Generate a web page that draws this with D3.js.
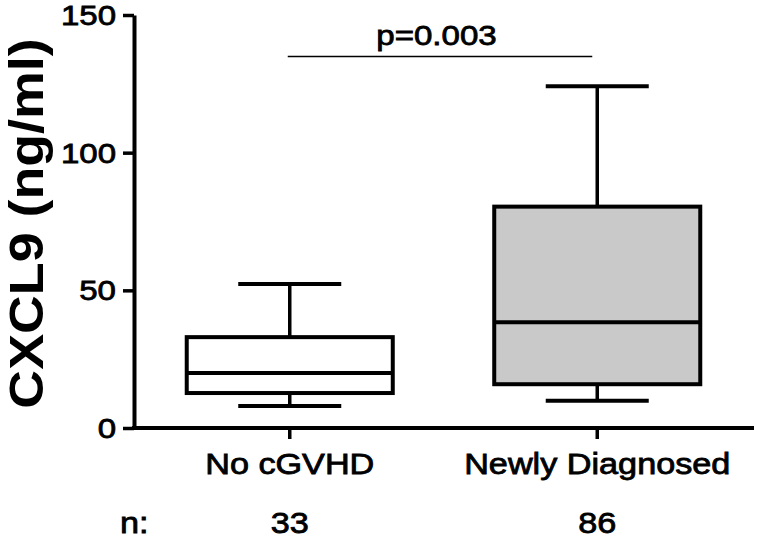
<!DOCTYPE html>
<html>
<head>
<meta charset="utf-8">
<script src="https://cdn.jsdelivr.net/npm/d3@7"></script>
<style>
  body { margin: 0; background: #fff; }
  text { font-family: "Liberation Sans", Arial, sans-serif; fill: #000; }
</style>
</head>
<body>
<script>
// data
var groups = ['No cGVHD', 'Newly Diagnosed'];
var lowWhisker = [8.0, 9.9];
var q1 = [12.7, 15.9];
var medians = [20.0, 38.4];
var q3 = [33.0, 80.4];
var highWhisker = [52.3, 124.1];
var counts = [33, 86];
var fills = ['#ffffff', '#c9c9c9'];
var yTicks = [0, 50, 100, 150];
var pLabel = 'p=0.003';

var width = 757, height = 539;
var sx = 1.18; // glyphs in the picture are a bit wide

var svg = d3.select('body').append('svg')
            .attr('width', width)
            .attr('height', height);

var y = d3.scaleLinear().domain([0, 150]).range([428, 15]);
var x = d3.scaleBand().domain(groups).range([136, 751]);
var boxW = x.bandwidth() * 0.67;
var capW = boxW / 2;
var cx = function(i){ return x(groups[i]) + x.bandwidth() / 2; };

var data = groups.map(function(g, i){
  return {name: g, lo: lowWhisker[i], q1: q1[i], med: medians[i], q3: q3[i], hi: highWhisker[i], n: counts[i], fill: fills[i], i: i};
});

// stretched text helper
function wideText(sel, tx, ty, anchor, size, weight, str){
  sel.append('text')
     .attr('transform', 'translate(' + tx + ',' + ty + ') scale(' + sx + ',1)')
     .attr('text-anchor', anchor)
     .style('font-size', size + 'px')
     .style('font-weight', weight)
     .style('stroke', '#000')
     .style('stroke-width', 0.8)
     .text(str);
}

// y axis
var yAxis = svg.append('g').attr('transform', 'translate(134,0)')
   .call(d3.axisLeft(y).tickValues(yTicks).tickSize(11).tickSizeOuter(0).tickFormat(''));
yAxis.select('.domain').attr('stroke-width', 4);
yAxis.selectAll('.tick line').attr('stroke-width', 3.5);
yTicks.forEach(function(t){
  wideText(svg, 116, y(t) + 10, 'end', 28, 'normal', t);
});

// x axis
var xAxis = svg.append('g').attr('transform', 'translate(0,428)')
   .call(d3.axisBottom(x).tickSize(11).tickSizeOuter(0).tickFormat(''));
xAxis.select('.domain').attr('d', 'M132,0H754').attr('stroke-width', 4);
xAxis.selectAll('.tick line').attr('stroke-width', 3.5);

// y label
svg.append('text')
   .attr('transform', 'translate(43,' + ((y(0) + y(150)) / 2 + 2) + ') rotate(-90) scale(1.12,1)')
   .attr('text-anchor', 'middle')
   .style('font-size', '48px')
   .style('font-weight', 'bold')
   .text('CXCL9 (ng/ml)');

// boxes
var box = svg.selectAll('g.box').data(data).enter().append('g').attr('class', 'box');

box.append('line')
   .attr('x1', function(d){ return cx(d.i); })
   .attr('x2', function(d){ return cx(d.i); })
   .attr('y1', function(d){ return y(d.hi); })
   .attr('y2', function(d){ return y(d.lo); })
   .attr('stroke', '#000').attr('stroke-width', 3.5);

box.append('rect')
   .attr('x', function(d){ return cx(d.i) - boxW / 2; })
   .attr('width', boxW)
   .attr('y', function(d){ return y(d.q3); })
   .attr('height', function(d){ return y(d.q1) - y(d.q3); })
   .attr('fill', function(d){ return d.fill; })
   .attr('stroke', '#000').attr('stroke-width', 4);

box.append('line')
   .attr('x1', function(d){ return cx(d.i) - boxW / 2; })
   .attr('x2', function(d){ return cx(d.i) + boxW / 2; })
   .attr('y1', function(d){ return y(d.med); })
   .attr('y2', function(d){ return y(d.med); })
   .attr('stroke', '#000').attr('stroke-width', 4);

['hi', 'lo'].forEach(function(k){
  box.append('line')
     .attr('x1', function(d){ return cx(d.i) - capW / 2; })
     .attr('x2', function(d){ return cx(d.i) + capW / 2; })
     .attr('y1', function(d){ return y(d[k]); })
     .attr('y2', function(d){ return y(d[k]); })
     .attr('stroke', '#000').attr('stroke-width', 4);
});

// category labels and counts
data.forEach(function(d){
  wideText(svg, cx(d.i), 474, 'middle', 29, 'normal', d.name);
  wideText(svg, cx(d.i), 533, 'middle', 29, 'normal', d.n);
});
wideText(svg, 120, 533, 'start', 29, 'normal', 'n:');

// significance bar
svg.append('line')
   .attr('x1', cx(0) - 2).attr('x2', cx(1) - 5)
   .attr('y1', 56.5).attr('y2', 56.5)
   .attr('stroke', '#000').attr('stroke-width', 1.5);
wideText(svg, (cx(0) + cx(1)) / 2 - 7, 45, 'middle', 28, 'normal', pLabel);
</script>
</body>
</html>
